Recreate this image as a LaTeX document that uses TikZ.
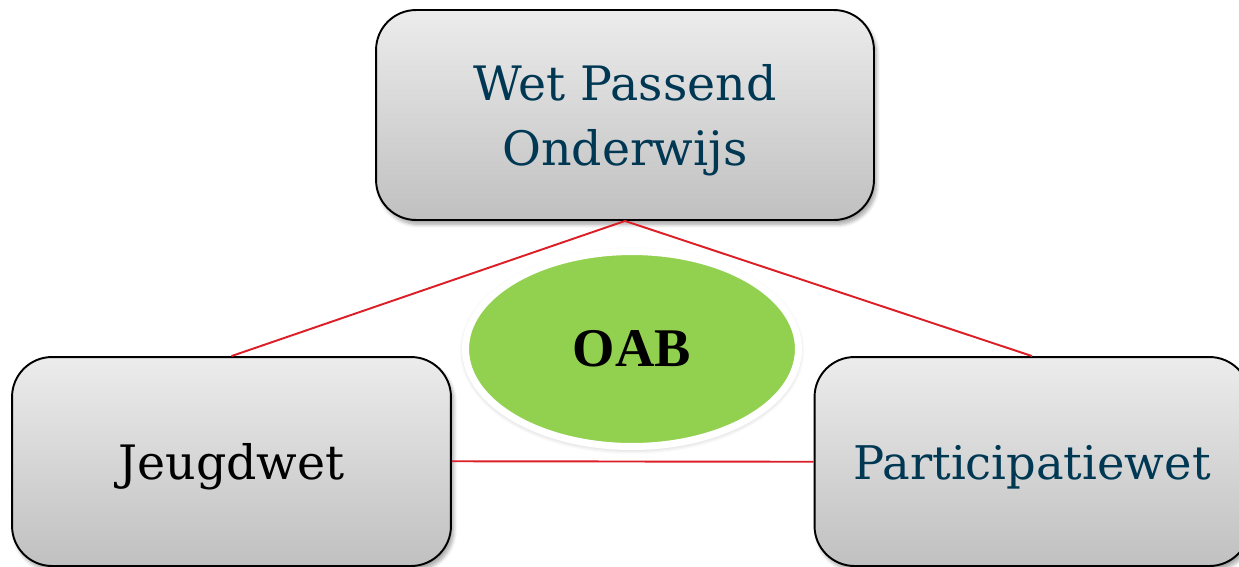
\documentclass[tikz,border=0pt]{standalone}
\usepackage{fontspec}
\setmainfont{DejaVu Serif}
\newfontfamily\oabfont{Liberation Serif}
\usetikzlibrary{shapes.geometric,shadows.blur}
\definecolor{txtblue}{RGB}{0,56,84}
\definecolor{linered}{RGB}{220,30,38}
\definecolor{oabgreen}{RGB}{146,208,80}
\definecolor{gtop}{RGB}{236,236,236}
\definecolor{gbot}{RGB}{192,192,192}
\newcommand{\shiftdown}[1]{\raisebox{-3pt}[\height][\depth]{#1}}
\begin{document}
\begin{tikzpicture}[x=0.02cm,y=-0.02cm,
  lawbox/.style={draw=black, line width=1.1pt, rounded corners=0.8cm,
    top color=gtop, bottom color=gbot, inner sep=0pt, align=center,
    font=\fontsize{27}{37}\selectfont,
    blur shadow={shadow xshift=1.5pt, shadow yshift=-2.5pt, shadow blur steps=6, shadow opacity=35}},
  link/.style={draw=linered, line width=1.1pt}]
\useasboundingbox (0,0) rectangle (1239,566);
\node[lawbox, minimum width=9.96cm, minimum height=4.2cm, text=txtblue] (wpo) at (625,115)
  {\shiftdown{\begin{tabular}{@{}c@{}}Wet Passend\\Onderwijs\end{tabular}}};
\node[lawbox, minimum width=8.78cm, minimum height=4.18cm, text=black] (jw) at (231.5,461.5) {\shiftdown{Jeugdwet}};
\node[lawbox, minimum width=8.7cm, minimum height=4.18cm, text=txtblue, font=\fontsize{26.4}{37}\selectfont] (pw) at (1032,461.5) {\shiftdown{Participatiewet}};
\node[ellipse, draw=white, line width=4pt, fill=oabgreen, inner sep=0pt,
  minimum width=6.66cm, minimum height=3.9cm,
  blur shadow={shadow xshift=0pt, shadow yshift=-1pt, shadow blur steps=6, shadow opacity=30, shadow blur radius=3.5pt},
  font=\oabfont\bfseries\fontsize{31}{36}\selectfont] (oab) at (632,349) {OAB};
\draw[link] (wpo.south) -- (jw.north);
\draw[link] (wpo.south) -- (pw.north);
\draw[link] ([yshift=0.15pt]jw.east) -- ([yshift=-0.15pt]pw.west);
\end{tikzpicture}
\end{document}
